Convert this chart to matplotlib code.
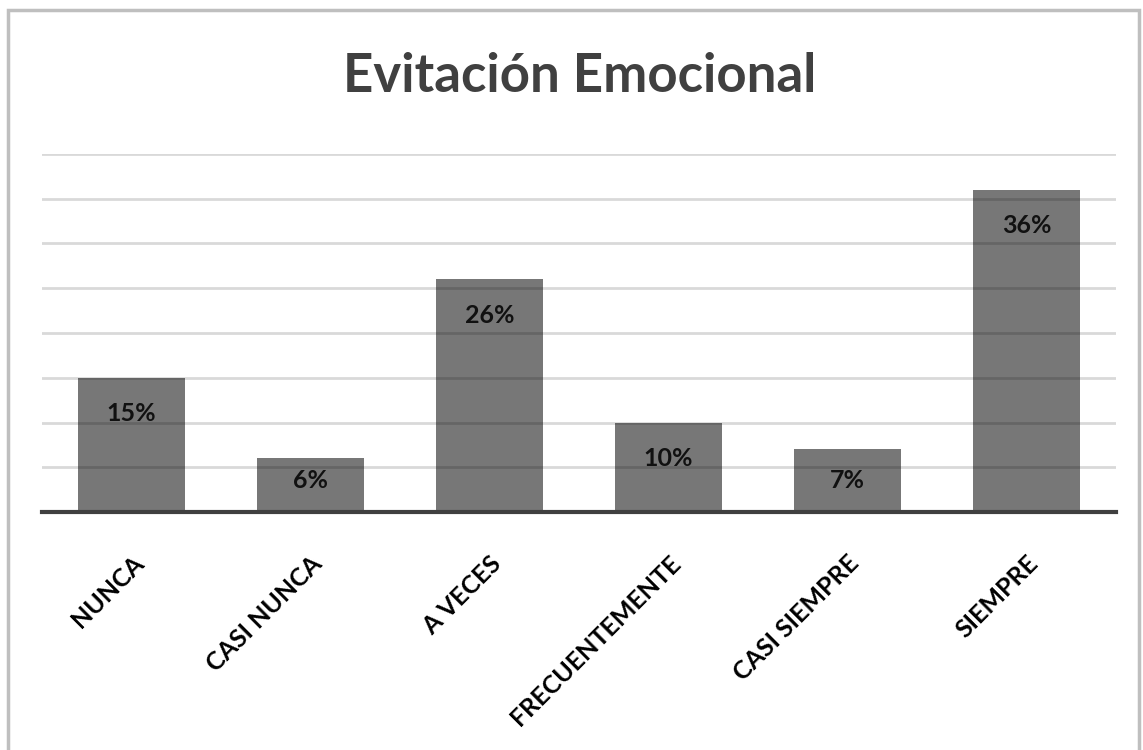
import matplotlib.pyplot as plt
from matplotlib.patches import Rectangle

categorias = ['NUNCA', 'CASI NUNCA', 'A VECES', 'FRECUENTEMENTE', 'CASI SIEMPRE', 'SIEMPRE']
porcentajes = [15, 6, 26, 10, 7, 36]

plt.rcParams['font.family'] = ['Lato', 'DejaVu Sans']

fig = plt.figure(figsize=(11.43, 7.5), dpi=100)
ax = fig.add_axes([42 / 1143, 1 - 512 / 750, 1074 / 1143, 358 / 750])

# Marco exterior del gráfico
fig.patches.append(Rectangle((8 / 1143, -0.01), 1131 / 1143, 1 - 10 / 750 + 0.01,
                             transform=fig.transFigure, fill=False,
                             edgecolor='#bfbfbf', linewidth=2.5))

x = range(len(categorias))
barras = ax.bar(x, porcentajes, width=0.6, color='#777777', zorder=2)

ax.set_xlim(-0.5, len(categorias) - 0.5)
ax.set_ylim(0, 40)
ax.set_yticks(range(5, 41, 5))
ax.yaxis.grid(True, color='black', alpha=0.15, linewidth=2, zorder=3)
ax.set_axisbelow(False)
ax.tick_params(axis='y', left=False, labelleft=False)
ax.tick_params(axis='x', bottom=False, pad=25)
for lado in ['top', 'left', 'right']:
    ax.spines[lado].set_visible(False)
ax.spines['bottom'].set_color('#404040')
ax.spines['bottom'].set_linewidth(3)
ax.spines['bottom'].set_zorder(4)

ax.set_xticks(list(x))
ax.set_xticklabels(categorias, rotation=45, ha='right', va='top',
                   rotation_mode='anchor', fontsize=18, fontweight='bold',
                   color='black')

# Etiquetas de porcentaje dentro de cada barra (en barras bajas se centran más arriba)
for i, v in enumerate(porcentajes):
    y_etiqueta = max(v - 4.0, 3.5)
    ax.text(i, y_etiqueta, f'{v}%', ha='center', va='center', fontsize=18,
            fontweight='bold', color='#111111', zorder=5)

fig.text(0.5075, 1 - 76 / 750, 'Evitación Emocional', ha='center', va='center',
         fontsize=38, fontweight='bold', color='#404040')

fig.savefig('out.png', dpi=100)
